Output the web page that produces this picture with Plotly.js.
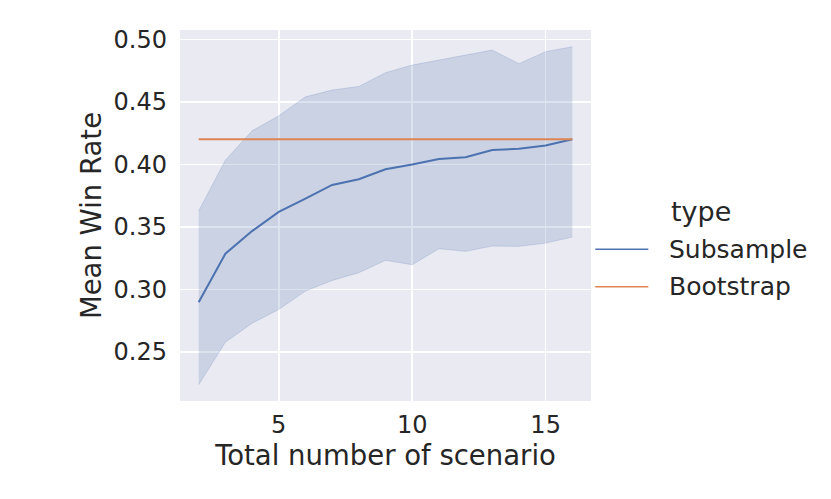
<!DOCTYPE html>
<html>
<head>
<meta charset="utf-8">
<script src="https://cdn.plot.ly/plotly-3.0.1.min.js"></script>
<style>html,body{margin:0;padding:0;background:#fff;}#chart{width:831px;height:499px;}</style>
</head>
<body>
<div id="chart"></div>
<script>
const scenarios = [2, 3, 4, 5, 6, 7, 8, 9, 10, 11, 12, 13, 14, 15, 16];
const subsampleMean = [0.2897, 0.3285, 0.3466, 0.3619, 0.3726, 0.3835, 0.3881, 0.3961, 0.3998, 0.4043, 0.4057, 0.4115, 0.4124, 0.4151, 0.4201];
const subsampleUpper = [0.3627, 0.4033, 0.4268, 0.4388, 0.4540, 0.4594, 0.4623, 0.4733, 0.4794, 0.4834, 0.4874, 0.4914, 0.4805, 0.4901, 0.4941];
const subsampleLower = [0.2236, 0.2577, 0.2729, 0.2839, 0.2986, 0.3071, 0.3133, 0.3232, 0.3197, 0.3325, 0.3304, 0.3346, 0.3344, 0.3370, 0.3418];
const bootstrapValue = [0.4201, 0.4201, 0.4201, 0.4201, 0.4201, 0.4201, 0.4201, 0.4201, 0.4201, 0.4201, 0.4201, 0.4201, 0.4201, 0.4201, 0.4201];
const xTicks = [5, 10, 15];
const yTicks = [0.25, 0.30, 0.35, 0.40, 0.45, 0.50];
const yTickText = ["0.25", "0.30", "0.35", "0.40", "0.45", "0.50"];
const seriesNames = ["Subsample", "Bootstrap"];
const legendTitle = "type";

const BLUE = "#4C72B0", ORANGE = "#DD8452", TXT = "#262626";
const W = 831, H = 499;
const M = {l: 180, r: 240.3, t: 30, b: 98.3};
const pw = W - M.l - M.r, ph = H - M.t - M.b;
const px = x => (x - M.l) / pw;
const py = y => (H - M.b - y) / ph;

const traces = [
  {x: scenarios, y: subsampleLower, mode: "lines", line: {color: "rgba(76,114,176,0.2)", width: 1}, hoverinfo: "skip", showlegend: false},
  {x: scenarios, y: subsampleUpper, mode: "lines", fill: "tonexty", fillcolor: "rgba(76,114,176,0.2)", line: {color: "rgba(76,114,176,0.2)", width: 1}, hoverinfo: "skip", showlegend: false},
  {x: scenarios, y: subsampleMean, mode: "lines", name: seriesNames[0], line: {color: BLUE, width: 2}, showlegend: false},
  {x: scenarios, y: bootstrapValue, mode: "lines", name: seriesNames[1], line: {color: ORANGE, width: 2}, showlegend: false}
];

const font = {family: "DejaVu Sans", color: TXT};
const legendRows = [249, 286.5];
const shapes = seriesNames.map((n, i) => ({
  type: "line", xref: "paper", yref: "paper",
  x0: px(595), x1: px(648), y0: py(legendRows[i]), y1: py(legendRows[i]),
  line: {color: [BLUE, ORANGE][i], width: 1.6}
}));
const annotations = seriesNames.map((n, i) => ({
  text: n, xref: "paper", yref: "paper", x: px(667), y: py(legendRows[i]),
  xanchor: "left", yanchor: "middle", showarrow: false,
  font: Object.assign({size: 25}, font)
}));
annotations.push({
  text: legendTitle, xref: "paper", yref: "paper", x: px(701), y: py(211),
  xanchor: "center", yanchor: "middle", showarrow: false,
  font: Object.assign({size: 27}, font)
});

const layout = {
  width: W, height: H,
  margin: M,
  paper_bgcolor: "#ffffff",
  plot_bgcolor: "#EAEAF2",
  showlegend: false,
  font: font,
  xaxis: {
    range: [1.3, 16.7], tickvals: xTicks, ticks: "", showline: false, zeroline: false,
    gridcolor: "#ffffff", gridwidth: 1.5,
    tickfont: Object.assign({size: 24}, font),
    ticklabelstandoff: 7,
    title: {text: "Total number of scenario", font: Object.assign({size: 27.5}, font), standoff: 0}
  },
  yaxis: {
    range: [0.2107, 0.50745], tickvals: yTicks, ticktext: yTickText, ticks: "", showline: false, zeroline: false,
    gridcolor: "#ffffff", gridwidth: 1.5,
    tickfont: Object.assign({size: 24}, font),
    ticklabelstandoff: 12,
    title: {text: "Mean Win Rate", font: Object.assign({size: 27.5}, font), standoff: 3}
  },
  shapes: shapes,
  annotations: annotations
};

Plotly.newPlot("chart", traces, layout, {displayModeBar: false, staticPlot: true});
</script>
</body>
</html>
